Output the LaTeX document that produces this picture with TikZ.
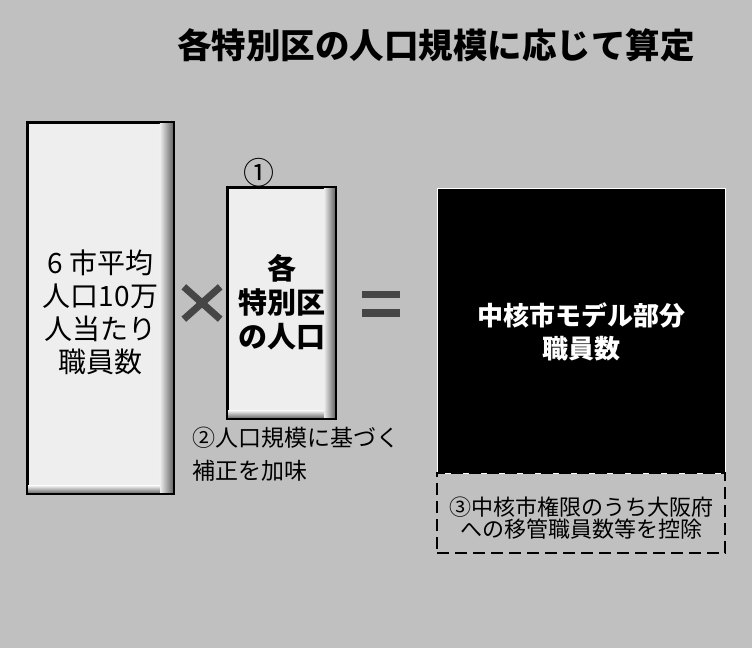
\documentclass[tikz,border=0pt]{standalone}
\usepackage{fontspec}
\setmainfont{Noto Sans CJK JP}
\usetikzlibrary{calc}
\definecolor{bggray}{RGB}{192,192,192}
\definecolor{boxfill}{RGB}{238,238,238}
\definecolor{bevel}{RGB}{95,95,95}
\definecolor{markgray}{RGB}{70,70,70}
\begin{document}
\begin{tikzpicture}[x=1pt,y=-1pt,
  box/.style={draw=black,line width=1.6pt,fill=boxfill,inner sep=0pt},
  txt/.style={align=center,inner sep=0pt},
  symb/.style={inner sep=0pt}]
\useasboundingbox (0,0) rectangle (752,648);
\fill[bggray] (0,0) rectangle (752,648);

% title
\node[txt,font=\fontsize{34.5}{40}\selectfont\bfseries] (title) at (436,45) {各特別区の人口規模に応じて算定};

% left box
\node[box,minimum width=145pt,minimum height=370pt] (avg) at (100.5,308) {};
\shade[left color=boxfill,right color=bevel] ($(avg.north east)+(-14,0)$) rectangle (avg.south east);
\shade[top color=boxfill,bottom color=bevel] ($(avg.south west)+(0,-8)$) rectangle ($(avg.south east)+(-14,0)$);
\draw[line width=1.6pt] (avg.north west) rectangle (avg.south east);
\node[txt,font=\fontsize{28}{33}\selectfont] (avgtxt) at (avg.center) [yshift=-4pt] {6 市平均\\人口10万\\人当たり\\職員数};

% times
\node[symb,minimum width=36pt,minimum height=32pt] (times) at (202,303) {};
\draw[markgray,line width=7pt] (times.north west) -- (times.south east);
\draw[markgray,line width=7pt] (times.north east) -- (times.south west);

% middle box
\node[box,minimum width=107pt,minimum height=230pt] (pop) at (281.5,303) {};
\shade[left color=boxfill,right color=bevel] ($(pop.north east)+(-12,0)$) rectangle (pop.south east);
\shade[top color=boxfill,bottom color=bevel] ($(pop.south west)+(0,-8)$) rectangle ($(pop.south east)+(-12,0)$);
\draw[line width=1.6pt] (pop.north west) rectangle (pop.south east);
\node[txt,font=\fontsize{29}{34}\selectfont\bfseries] (poptxt) at (pop.center) [yshift=1pt] {各\\特別区\\の人口};
\node[txt,font=\fontsize{31}{34}\selectfont] (c1) at (258.5,173) {①};
\node[txt,font=\fontsize{23}{33}\selectfont,align=left,anchor=north west] (c2) at (192,427) {②人口規模に基づく\\補正を加味};

% equals
\node[symb,minimum width=38pt,minimum height=26pt] (eq) at (381,304) {};
\fill[markgray] (eq.north west) rectangle ($(eq.north east)+(0,7)$);
\fill[markgray] ($(eq.south west)+(0,-8)$) rectangle (eq.south east);

% black box
\node[draw=white,line width=1pt,fill=black,minimum width=288pt,minimum height=285pt,inner sep=0pt] (core) at (581,330.5) {};
\node[txt,text=white,font=\fontsize{26}{33}\selectfont\bfseries] (coretxt) at ($(core.center)+(0,1)$) {中核市モデル部分\\職員数};

% dashed box
\node[draw=black,line width=2.2pt,dash pattern=on 12pt off 6pt,minimum width=288pt,minimum height=80pt,inner sep=0pt] (ded) at (581,513) {};
\node[txt,font=\fontsize{22}{22}\selectfont] (dedtxt) at (581,518) {③中核市権限のうち大阪府\\への移管職員数等を控除};
\end{tikzpicture}
\end{document}
